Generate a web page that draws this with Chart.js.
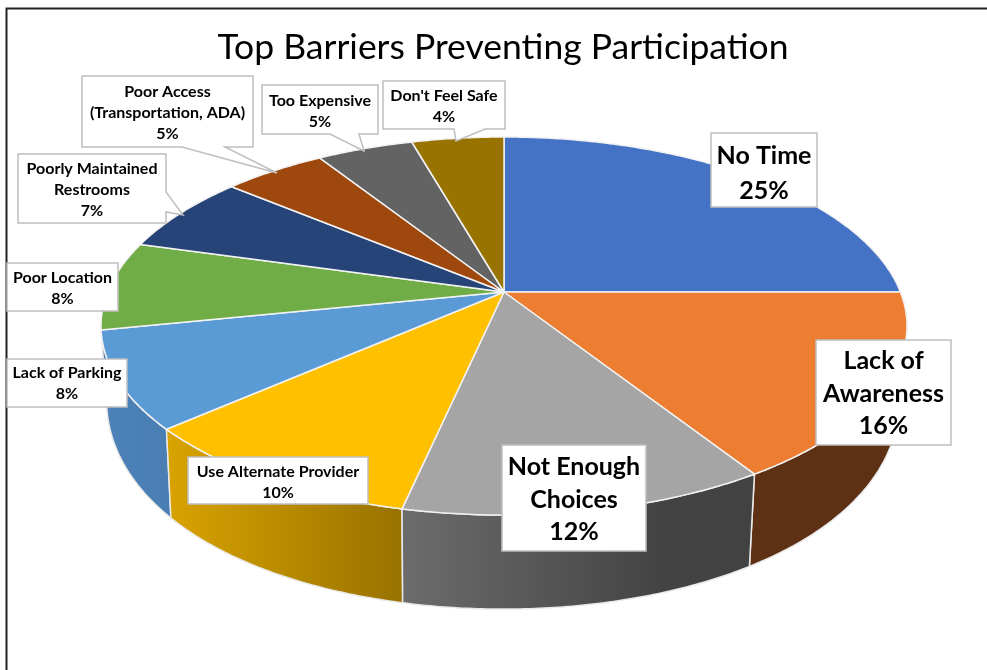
<!DOCTYPE html>
<html>
<head>
<meta charset="utf-8">
<style>html,body{margin:0;padding:0;background:#fff;overflow:hidden}canvas{display:block}</style>
<script src="https://cdn.jsdelivr.net/npm/chart.js@4/dist/chart.umd.min.js"></script>
</head>
<body>
<canvas id="c" width="987" height="670"></canvas>
<script>
const categories = ["No Time","Lack of Awareness","Not Enough Choices","Use Alternate Provider","Lack of Parking","Poor Location","Poorly Maintained Restrooms","Poor Access (Transportation, ADA)","Too Expensive","Don't Feel Safe"];
const values = [25, 16, 12.4, 10.1, 8.3, 7.6, 6.7, 4.9, 4.6, 4.4];
const percentLabels = ["25%","16%","12%","10%","8%","8%","7%","5%","5%","4%"];
const labelLines = [["No Time"],["Lack of","Awareness"],["Not Enough","Choices"],["Use Alternate Provider"],["Lack of Parking"],["Poor Location"],["Poorly Maintained","Restrooms"],["Poor Access","(Transportation, ADA)"],["Too Expensive"],["Don't Feel Safe"]];
const sliceColors = ["#4472C4","#ED7D31","#A5A5A5","#FFC000","#5B9BD5","#70AD47","#264478","#9E480E","#636363","#997300"];
const chartTitle = "Top Barriers Preventing Participation";

// label box styling (rect x0,y0,x1,y1; optional callout polygon points; text size; line height)
const labelBoxes = [
  {r:[711,133,817,207],fs:25,lh:35,ty:156},
  {r:[816,340,951,445],fs:25,lh:32.5,ty:361},
  {r:[502,445,646,551],fs:25,lh:32.5,ty:467},
  {r:[188,457,368,504],fs:16,lh:21,ty:472},
  {r:[7,359,127,407],fs:16,lh:21,ty:373},
  {r:[7,263,118,311],fs:16,lh:21,ty:278},
  {r:[18,154,166,223],fs:16,lh:21,ty:169,tail:{side:"right",a:[166,192],tip:[183,215],b:[166,212]}},
  {r:[82,76,253,147],fs:16,lh:21,ty:92,tail:{side:"bottom",a:[225,147],tip:[277,173],b:[182,147]}},
  {r:[262,85,378,134],fs:16,lh:21,ty:101,tail:{side:"bottom",a:[359,134],tip:[364,151],b:[330,134]}},
  {r:[383,81,505,129],fs:16,lh:21,ty:96,tail:{side:"bottom",a:[485,129],tip:[456,141],b:[454,129]}}
];

// perspective projection of the pie disc
const topDisc = {cx:504, cy:292, kx:396.4, ky:182.9, cxw:-0.18, cyw:-0.18};
const botDisc = {cx:503, cy:358, kx:390, ky:226, cxw:-0.18, cyw:-0.1};
function project(d, a){
  const x = Math.cos(a), y = Math.sin(a);
  return [d.cx + d.kx*x/(1 + d.cxw*y), d.cy + d.ky*y/(1 + d.cyw*y)];
}
function traceArc(ctx, d, a0, a1, first){
  const n = Math.max(2, Math.ceil(Math.abs(a1-a0)/0.01));
  for(let i=0;i<=n;i++){
    const p = project(d, a0 + (a1-a0)*i/n);
    if(i===0 && first) ctx.moveTo(p[0],p[1]); else ctx.lineTo(p[0],p[1]);
  }
}
const wallStyles = {
  1:{stops:[[0,"#5f3114"],[1,"#5f3114"]]},
  2:{stops:[[0,"#6c6c6c"],[0.75,"#434343"],[1,"#424242"]]},
  3:{stops:[[0,"#d8a200"],[1,"#987200"]]},
  4:{stops:[[0,"#4c82b8"],[1,"#4a7eb3"]]}
};
const pie3d = {
  id:"pie3d",
  beforeDraw(chart){
    const ctx = chart.ctx;
    ctx.save();
    ctx.fillStyle="#fff"; ctx.fillRect(0,0,chart.width,chart.height);
    ctx.strokeStyle="#222"; ctx.lineWidth=2;
    ctx.beginPath(); ctx.moveTo(6.5,672); ctx.lineTo(6.5,8.5); ctx.lineTo(990,8.5); ctx.stroke();
    ctx.restore();
  },
  beforeDatasetDraw(chart, args){
    const ctx = chart.ctx, arcs = chart.getDatasetMeta(args.index).data;
    ctx.save();
    ctx.lineJoin="round";
    // side walls, back to front
    [4,1,3,2].forEach(i=>{
      const a = arcs[i], st = wallStyles[i];
      const p0 = project(botDisc,a.startAngle), p1 = project(botDisc,a.endAngle);
      const g = ctx.createLinearGradient(Math.min(p0[0],p1[0]),0,Math.max(p0[0],p1[0]),0);
      st.stops.forEach(s=>g.addColorStop(s[0],s[1]));
      ctx.beginPath();
      traceArc(ctx,topDisc,a.startAngle,a.endAngle,true);
      traceArc(ctx,botDisc,a.endAngle,a.startAngle,false);
      ctx.closePath();
      ctx.fillStyle=g; ctx.fill();
      ctx.strokeStyle="#e9e9e9"; ctx.lineWidth=1.5; ctx.stroke();
    });
    // top faces
    arcs.forEach((a,i)=>{
      ctx.beginPath();
      ctx.moveTo(topDisc.cx,topDisc.cy);
      traceArc(ctx,topDisc,a.startAngle,a.endAngle,false);
      ctx.closePath();
      ctx.fillStyle=sliceColors[i]; ctx.fill();
      ctx.strokeStyle="#f2f2f2"; ctx.lineWidth=1.5; ctx.stroke();
    });
    ctx.restore();
    return false;
  },
  afterDatasetsDraw(chart){
    const ctx = chart.ctx;
    ctx.save();
    ctx.textAlign="center"; ctx.textBaseline="middle";
    labelBoxes.forEach((b,i)=>{
      const [x0,y0,x1,y1]=b.r, t=b.tail;
      ctx.beginPath();
      ctx.moveTo(x0,y0); ctx.lineTo(x1,y0);
      if(t&&t.side==="right"){ ctx.lineTo(...t.a); ctx.lineTo(...t.tip); ctx.lineTo(...t.b); }
      ctx.lineTo(x1,y1);
      if(t&&t.side==="bottom"){ ctx.lineTo(...t.a); ctx.lineTo(...t.tip); ctx.lineTo(...t.b); }
      ctx.lineTo(x0,y1); ctx.closePath();
      ctx.fillStyle="#fff"; ctx.fill();
      ctx.strokeStyle="#bfbfbf"; ctx.lineWidth=1.5; ctx.stroke();
      ctx.fillStyle="#000";
      ctx.font="bold "+b.fs+"px Lato";
      const lines = labelLines[i].concat(percentLabels[i]);
      lines.forEach((s,k)=>ctx.fillText(s,(x0+x1)/2,b.ty+k*b.lh));
    });
    ctx.restore();
  }
};
new Chart(document.getElementById("c"),{
  type:"pie",
  data:{labels:categories,datasets:[{data:values,backgroundColor:sliceColors}]},
  options:{
    responsive:false,animation:false,
    layout:{padding:{left:19}},
    plugins:{
      legend:{display:false},tooltip:{enabled:false},
      title:{display:true,text:chartTitle,color:"#000",font:{family:"Lato",size:35.5,weight:"normal"},padding:{top:26,bottom:10}}
    }
  },
  plugins:[pie3d]
});
</script>
</body>
</html>
